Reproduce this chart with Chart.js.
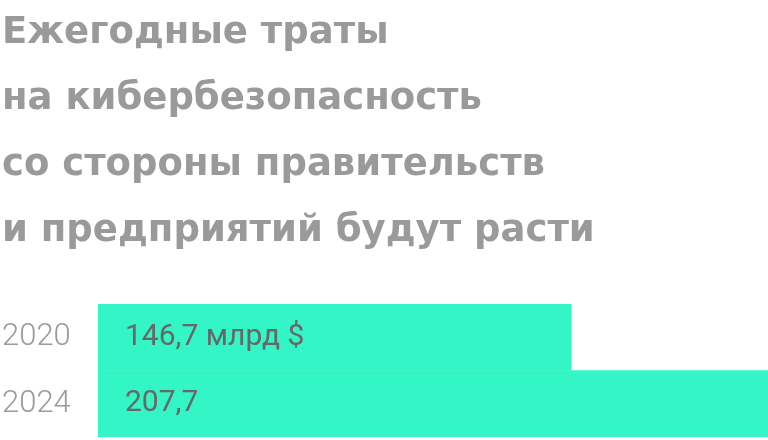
<!DOCTYPE html>
<html>
<head>
<meta charset="utf-8">
<script src="https://cdn.jsdelivr.net/npm/chart.js@4/dist/chart.umd.min.js"></script>
<style>
html,body{margin:0;padding:0;background:#fff;}
#wrap{width:768px;height:440px;position:relative;}
</style>
</head>
<body>
<div id="wrap"><canvas id="c" width="768" height="440"></canvas></div>
<script>
const titleLines = ['Ежегодные траты', 'на кибербезопасность', 'со стороны правительств', 'и предприятий будут расти'];
const categories = ['2020', '2024'];
const values = [146.7, 207.7];
const valueSuffixes = [' млрд $', ''];

const valueLabelPlugin = {
  id: 'valueLabels',
  afterDatasetsDraw(chart) {
    const ctx = chart.ctx;
    const meta = chart.getDatasetMeta(0);
    ctx.save();
    ctx.font = '400 30px Roboto';
    ctx.fillStyle = '#676767';
    ctx.textBaseline = 'middle';
    ctx.textAlign = 'left';
    meta.data.forEach((bar, i) => {
      const txt = values[i].toFixed(1).replace('.', ',') + valueSuffixes[i];
      ctx.fillText(txt, chart.chartArea.left + 27, bar.y);
    });
    ctx.restore();
  }
};

new Chart(document.getElementById('c'), {
  type: 'bar',
  data: {
    labels: categories,
    datasets: [{
      data: values,
      backgroundColor: '#34F5C5',
      borderWidth: 0,
      barPercentage: 1,
      categoryPercentage: 1
    }]
  },
  options: {
    indexAxis: 'y',
    responsive: false,
    animation: false,
    devicePixelRatio: 1,
    layout: { padding: { left: 2, right: 0, top: 0, bottom: 3 } },
    plugins: {
      legend: { display: false },
      tooltip: { enabled: false },
      title: {
        display: true,
        text: titleLines,
        align: 'start',
        color: '#9a9a9a',
        font: { family: '"DejaVu Sans"', size: 37, weight: 'bold', lineHeight: 66 / 37 },
        padding: { top: 0, bottom: 40 }
      }
    },
    scales: {
      x: {
        display: false,
        min: 0,
        max: Math.max(...values)
      },
      y: {
        grid: { display: false, drawTicks: false },
        border: { display: false },
        ticks: {
          color: '#9b9b9b',
          font: { family: 'Roboto', size: 31, weight: '300' },
          padding: 0,
          crossAlign: 'far'
        },
        afterFit(scale) {
          scale.width = 96;
          scale.paddingTop = 0;
          scale.paddingBottom = 0;
        }
      }
    }
  },
  plugins: [valueLabelPlugin]
});
</script>
</body>
</html>
